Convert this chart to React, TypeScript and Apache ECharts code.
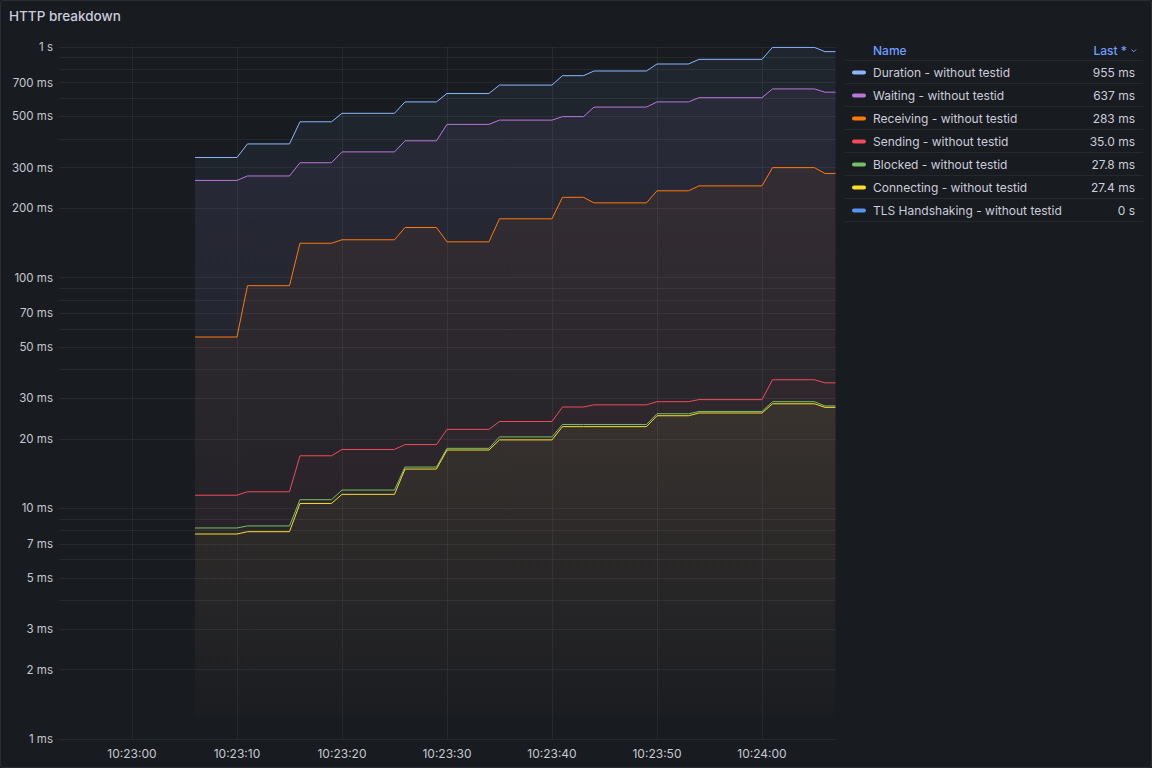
import React, { useEffect, useRef } from "react";
import * as echarts from "echarts";

// Flat segments of the step-like series (start / end time of each plateau)
const segStart = ["10:23:06", "10:23:11", "10:23:16", "10:23:20", "10:23:26", "10:23:30", "10:23:35", "10:23:41", "10:23:44", "10:23:50", "10:23:54", "10:24:01", "10:24:06"];
const segEnd = ["10:23:10", "10:23:15", "10:23:19", "10:23:25", "10:23:29", "10:23:34", "10:23:40", "10:23:43", "10:23:49", "10:23:53", "10:24:00", "10:24:05", "10:24:07"];

// values in ms
const duration = [332, 380, 474, 516, 578, 629, 684, 751, 787, 844, 884, 996, 955];
const waiting = [264, 276, 315, 351, 392, 462, 482, 499, 549, 578, 603, 658, 637];
const receiving = [55.3, 92.3, 141, 146, 165, 143, 180, 223, 211, 238, 250, 300, 283];
const sending = [11.4, 11.8, 16.9, 18.0, 18.9, 22.0, 23.8, 27.5, 28.1, 29.0, 29.6, 36.1, 35.0];
const blocked = [8.22, 8.39, 10.9, 12.0, 15.1, 18.2, 20.4, 23.1, 23.1, 25.7, 26.3, 29.0, 27.8];
const connecting = [7.74, 7.92, 10.5, 11.5, 14.8, 17.9, 19.8, 22.6, 22.6, 25.2, 25.9, 28.4, 27.4];
const tlsHandshaking = [0, 0, 0, 0, 0, 0, 0, 0, 0, 0, 0, 0, 0];

const seriesNames = [
  "Duration - without testid",
  "Waiting - without testid",
  "Receiving - without testid",
  "Sending - without testid",
  "Blocked - without testid",
  "Connecting - without testid",
  "TLS Handshaking - without testid",
];
const seriesColors = ["#8ab8ff", "#b877d9", "#ff780a", "#f2495c", "#73bf69", "#fade2a", "#5794f2"];
const seriesValues = [duration, waiting, receiving, sending, blocked, connecting, tlsHandshaking];

const xTickLabels = ["10:23:00", "10:23:10", "10:23:20", "10:23:30", "10:23:40", "10:23:50", "10:24:00"];
const xRange = ["10:22:53.05", "10:24:07.05"];
const yGridValues = [1, 2, 3, 4, 5, 6, 7, 8, 9, 10, 20, 30, 40, 50, 60, 70, 80, 90, 100, 200, 300, 400, 500, 600, 700, 800, 900, 1000];
const yLabelValues = [1, 2, 3, 5, 7, 10, 20, 30, 50, 70, 100, 200, 300, 500, 700, 1000];

function toTime(s: string): number {
  const [h, m, sec] = s.split(":");
  const secF = parseFloat(sec);
  const whole = Math.floor(secF);
  const ms = Math.round((secF - whole) * 1000);
  return new Date(2024, 0, 1, parseInt(h), parseInt(m), whole, ms).getTime();
}
function pad(n: number) {
  return n < 10 ? "0" + n : "" + n;
}
function fmtTime(v: number) {
  const d = new Date(v);
  return `${pad(d.getHours())}:${pad(d.getMinutes())}:${pad(d.getSeconds())}`;
}
function fmtMs(v: number) {
  if (v >= 1000) return `${v / 1000} s`;
  return `${v} ms`;
}
function fmtLast(v: number) {
  if (v === 0) return "0 s";
  if (v >= 100) return `${v.toFixed(0)} ms`;
  if (v >= 10) return `${v.toFixed(1)} ms`;
  return `${v.toFixed(2)} ms`;
}

const PLOT_LEFT = 59;
const PLOT_RIGHT = 836;
const PLOT_TOP = 47;
const PLOT_BOTTOM = 739;
const W = 1152;
const H = 768;

export default function App() {
  const ref = useRef<HTMLDivElement>(null);
  useEffect(() => {
    if (!ref.current) return;
    const chart = echarts.init(ref.current, undefined, { renderer: "svg" });
    const textColor = "#ccccdc";
    const axisTextColor = "#c7c8d1";
    const gridColor = "rgba(204,204,220,0.08)";

    const series = seriesValues.map((vals, i) => {
      const data: any[] = [];
      vals.forEach((v, j) => {
        const val = v > 0 ? v : null;
        data.push([toTime(segStart[j]), val]);
        if (segEnd[j] !== segStart[j]) data.push([toTime(segEnd[j]), val]);
      });
      const c = seriesColors[i];
      return {
        name: seriesNames[i],
        type: "line",
        data,
        showSymbol: false,
        symbol: "none",
        connectNulls: false,
        lineStyle: { color: c, width: 1 },
        itemStyle: { color: c },
        areaStyle: {
          origin: "start",
          color: {
            type: "linear",
            x: 0,
            y: PLOT_TOP,
            x2: 0,
            y2: PLOT_BOTTOM,
            global: true,
            colorStops: [
              { offset: 0, color: echarts.color.modifyAlpha(c, 0.1) },
              { offset: 1, color: echarts.color.modifyAlpha(c, 0) },
            ],
          },
        },
      };
    });

    const graphics: any[] = [
      {
        type: "rect",
        shape: { x: 0.5, y: 0.5, width: W - 1, height: H - 1, r: 2 },
        style: { fill: "none", stroke: "#2b2e34", lineWidth: 1 },
        silent: true,
      },
      {
        type: "text",
        x: 9,
        y: 16,
        style: {
          text: "HTTP breakdown",
          fill: textColor,
          font: "500 13.5px Inter",
          verticalAlign: "middle",
        },
      },
      {
        type: "text",
        x: 873,
        y: 50,
        style: { text: "Name", fill: "#6e9fff", font: "500 12px Inter", verticalAlign: "middle" },
      },
      {
        type: "text",
        x: 1127,
        y: 50,
        style: { text: "Last *", fill: "#6e9fff", font: "500 12px Inter", align: "right", verticalAlign: "middle" },
      },
      {
        type: "polyline",
        shape: { points: [[1131.5, 49.5], [1133.8, 51.8], [1136, 49.5]] },
        style: { stroke: "#6e9fff", lineWidth: 1, fill: "none" },
      },
    ];
    const rowH = 23;
    const firstRowY = 72.5;
    for (let k = 0; k <= seriesNames.length; k++) {
      const ly = Math.round(firstRowY - rowH / 2 + k * rowH) - 0.5;
      graphics.push({
        type: "line",
        shape: { x1: 845, y1: ly, x2: 1143, y2: ly },
        style: { stroke: "#25282d", lineWidth: 1 },
      });
    }
    seriesNames.forEach((name, i) => {
      const cy = firstRowY + i * rowH;
      const vals = seriesValues[i];
      graphics.push({
        type: "rect",
        shape: { x: 852, y: cy - 2, width: 14, height: 4, r: 2 },
        style: { fill: seriesColors[i] },
      });
      graphics.push({
        type: "text",
        x: 873,
        y: cy,
        style: { text: name, fill: textColor, font: "12px Inter", verticalAlign: "middle" },
      });
      graphics.push({
        type: "text",
        x: 1135,
        y: cy,
        style: { text: fmtLast(vals[vals.length - 1]), fill: textColor, font: "12px Inter", align: "right", verticalAlign: "middle" },
      });
    });

    const xTicks = xTickLabels.map(toTime);

    const option: any = {
      animation: false,
      backgroundColor: "#181b1f",
      grid: {
        left: PLOT_LEFT,
        right: W - PLOT_RIGHT,
        top: PLOT_TOP,
        bottom: H - PLOT_BOTTOM,
        containLabel: false,
        outerBoundsMode: "none",
      },
      xAxis: {
        type: "value",
        min: toTime(xRange[0]),
        max: toTime(xRange[1]),
        axisLine: { show: false },
        axisTick: { show: false, customValues: xTicks },
        axisLabel: {
          customValues: xTicks,
          formatter: (v: number) => fmtTime(v),
          color: axisTextColor,
          fontSize: 12,
          fontFamily: "Inter",
          margin: 8,
          hideOverlap: false,
        },
        splitLine: { show: true, lineStyle: { color: gridColor, width: 1 } },
      },
      yAxis: {
        type: "log",
        logBase: 10,
        min: 1,
        max: 1000,
        axisLine: { show: false },
        axisTick: { show: false, customValues: yGridValues },
        axisLabel: {
          customValues: yLabelValues,
          formatter: (v: number) => fmtMs(v),
          color: axisTextColor,
          fontSize: 11.5,
          fontFamily: "Inter",
          margin: 6,
          hideOverlap: false,
        },
        splitLine: { show: true, lineStyle: { color: gridColor, width: 1 } },
      },
      series,
      graphic: graphics,
    };
    chart.setOption(option);
    return () => chart.dispose();
  }, []);

  return (
    <div
      ref={ref}
      style={{ position: "fixed", left: 0, top: 0, width: W, height: H }}
    />
  );
}
